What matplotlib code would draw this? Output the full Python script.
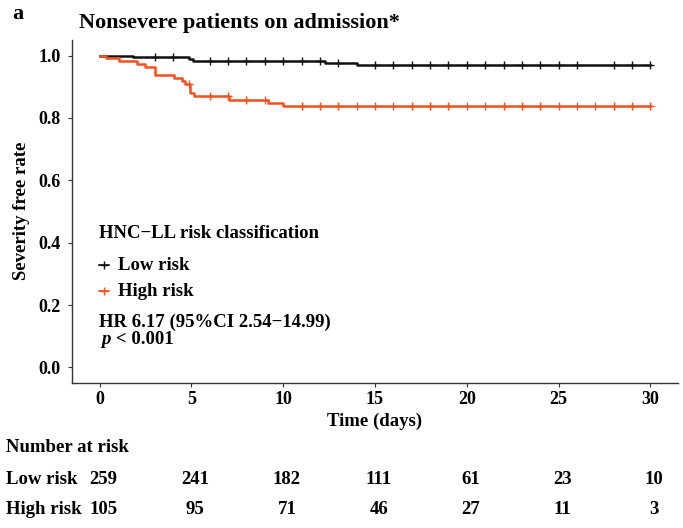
import numpy as np
import matplotlib
matplotlib.use('Agg')
import matplotlib.pyplot as plt
from matplotlib.lines import Line2D
from matplotlib.transforms import blended_transform_factory

plt.rcParams['font.family'] = ['Liberation Serif', 'DejaVu Serif']
plt.rcParams['font.weight'] = 'bold'

W, H = 683, 528

# Kaplan-Meier step data
low_t = [0, 1.8, 4.85, 5.1, 12.3, 14.0, 30]
low_s = [1.0, 0.996, 0.990, 0.983, 0.977, 0.971, 0.971]
high_t = [0, 0.33, 1.05, 2.05, 2.45, 3.04, 4.04, 4.49, 4.67, 4.9, 5.13, 7.03, 9.2, 10.0, 30]
high_s = [1.0, 0.992, 0.983, 0.973, 0.963, 0.937, 0.928, 0.917, 0.909, 0.881,
          0.869, 0.857, 0.848, 0.837, 0.837]

# censoring marks (days)
low_cens = [3, 4, 6, 7, 8, 9, 10, 11, 12, 13, 15, 16, 17, 18, 19, 20,
            21, 22, 23, 24, 25, 26, 28, 29, 30]
high_cens = [4.85, 6, 7, 8, 9, 11, 12, 13, 14, 15, 16, 17, 18, 19, 20, 21, 22,
             23, 24, 25, 26, 27, 28, 29, 30]

# number at risk table
risk_times = [0, 5, 10, 15, 20, 25, 30]
low_risk_n = [259, 241, 182, 111, 61, 23, 10]
high_risk_n = [105, 95, 71, 46, 27, 11, 3]

BLACK = '#111111'
RED = '#F4511E'
FS = 13.5


def fx(x):
    return x / W


def fy(y):
    return 1 - y / H


def step_value(times, surv, when):
    idx = np.searchsorted(times, when, side='right') - 1
    return np.asarray(surv)[idx]


fig = plt.figure(figsize=(W / 100, H / 100), dpi=100)
ax = fig.add_axes([fx(72), fy(383), fx(678) - fx(72), fy(40) - fy(383)])

for t, s, cens, col in [(low_t, low_s, low_cens, BLACK), (high_t, high_s, high_cens, RED)]:
    ax.step(t, s, where='post', color=col, lw=1.8)
    ax.plot(cens, step_value(t, s, cens), ls='none', marker='+',
            color=col, ms=6, mew=1.0)

ax.set_xlim(-1.5, 31.5)
ax.set_ylim(-0.05, 1.05)
ax.set_xticks(risk_times)
ax.set_yticks([0, 0.2, 0.4, 0.6, 0.8, 1.0])
ax.set_yticklabels(['0.0', '0.2', '0.4', '0.6', '0.8', '1.0'])
for sp in ['top', 'right']:
    ax.spines[sp].set_visible(False)
for sp in ['left', 'bottom']:
    ax.spines[sp].set_color('#333333')
    ax.spines[sp].set_linewidth(1.0)
ax.tick_params(length=3, width=0.8, color='#333333', labelsize=13)
ax.tick_params(axis='y', pad=5)
ax.tick_params(axis='x', pad=3)
for lab in ax.get_xticklabels() + ax.get_yticklabels():
    lab.set_fontweight('bold')

fig.text(fx(22), fy(211), 'Severity free rate', rotation=90, ha='center', va='center',
         fontsize=FS, fontweight='bold')
fig.text(fx(375), fy(421), 'Time (days)', ha='center', va='center', fontsize=FS, fontweight='bold')

fig.text(fx(12), fy(14), 'a', ha='left', va='center', fontsize=16, fontweight='bold')
fig.text(fx(79), fy(23), 'Nonsevere patients on admission*', ha='left', va='center',
         fontsize=16, fontweight='bold')

# legend drawn by hand
fig.text(fx(99), fy(234), 'HNC\u2212LL risk classification', ha='left', va='center',
         fontsize=FS, fontweight='bold')
for yy, lab, col in [(265, 'Low risk', BLACK), (291, 'High risk', RED)]:
    fig.add_artist(Line2D([fx(99), fx(109)], [fy(yy), fy(yy)], transform=fig.transFigure,
                          color=col, lw=1.2))
    fig.add_artist(Line2D([fx(104)], [fy(yy)], transform=fig.transFigure, color=col,
                          marker='+', ms=6, mew=1.0))
    fig.text(fx(118), fy(yy), lab, ha='left', va='center', fontsize=FS, fontweight='bold')

fig.text(fx(99), fy(322), 'HR 6.17 (95%CI 2.54\u221214.99)', ha='left', va='center',
         fontsize=FS, fontweight='bold')
fig.text(fx(101), fy(339), 'p', ha='left', va='center', fontsize=FS, fontweight='bold',
         style='italic')
fig.text(fx(116), fy(339), '< 0.001', ha='left', va='center', fontsize=FS, fontweight='bold')

# number at risk table
fig.text(fx(6), fy(447), 'Number at risk', ha='left', va='center', fontsize=FS, fontweight='bold')
tr = blended_transform_factory(ax.transData, fig.transFigure)
for yy, lab, counts in [(479, 'Low risk', low_risk_n), (510, 'High risk', high_risk_n)]:
    fig.text(fx(6), fy(yy), lab, ha='left', va='center', fontsize=FS, fontweight='bold')
    for t, n in zip(risk_times, counts):
        ax.text(t + 0.2, fy(yy), str(n), transform=tr, ha='center', va='center',
                fontsize=FS, fontweight='bold', clip_on=False)

fig.savefig('out.png', dpi=100)
